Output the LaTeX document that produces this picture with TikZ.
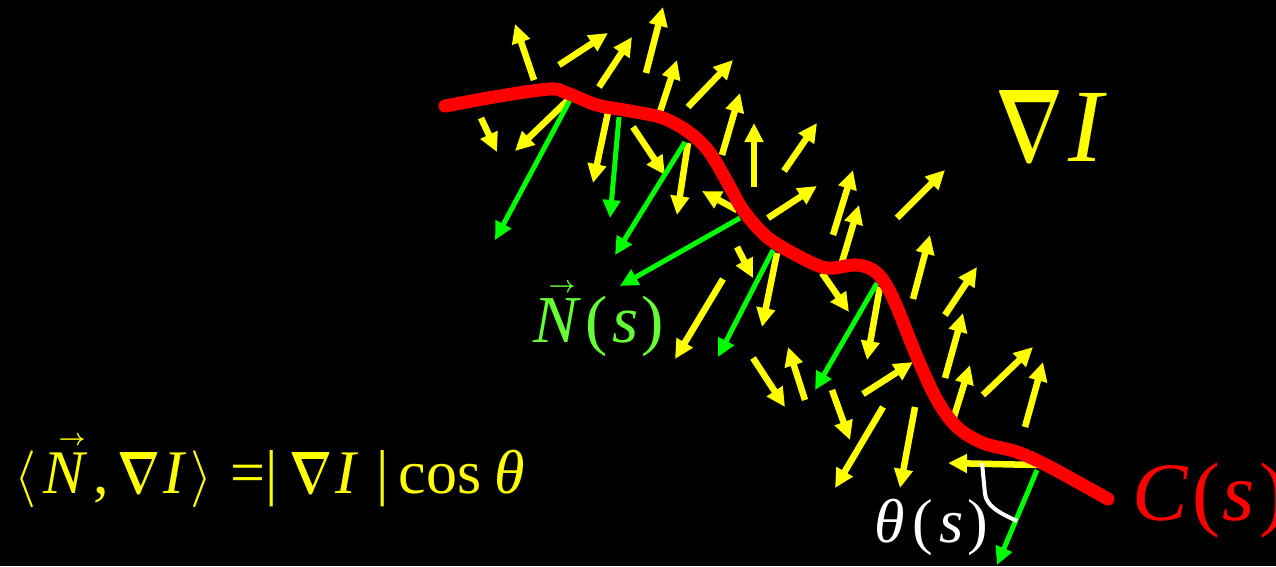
\documentclass[tikz,border=0pt]{standalone}
\usepackage{fontspec}
\setmainfont{Liberation Serif}
\usepackage{graphicx}
\usepackage{bm}
\usetikzlibrary{arrows.meta}
\definecolor{ylw}{RGB}{255,255,0}
\definecolor{grn}{RGB}{0,255,0}
\definecolor{ntxt}{RGB}{102,255,51}
\definecolor{crv}{RGB}{255,0,0}
\newcommand{\putat}[2]{\makebox[0pt][l]{\hspace{#1pt}#2}}
\newcommand{\vecarr}[1]{\resizebox{#1pt}{!}{$\bm\rightarrow$}}
\newcommand{\bignab}[2]{\resizebox{#1pt}{#2pt}{$\bm\nabla$}}
\newcommand{\angl}{\resizebox*{22pt}{57pt}{$\langle$}}
\newcommand{\angr}{\resizebox*{22pt}{57pt}{$\rangle$}}
\begin{document}
\begin{tikzpicture}[x=1pt,y=-1pt,
  yarr/.style={draw=ylw, line width=6.5pt, -{Triangle[length=19pt,width=18pt]}},
  garr/.style={draw=grn, line width=5pt, -{Triangle[length=18pt,width=17pt]}},
  curvestyle/.style={draw=crv, line width=13pt, line cap=round, line join=round},
  anglestyle/.style={draw=white, line width=4pt},
  lbl/.style={inner sep=0pt, anchor=base west}]
\fill[black] (0,0) rectangle (1276,566);
\useasboundingbox (0,0) rectangle (1276,566);
% yellow gradient arrows
\foreach \a/\b/\c/\d in {
534/80/515/24, 559/65/608/33, 599/87/632/37, 646/73/663/7,
659/115/677/60, 688/107/733/60, 481/118/497/152, 568/100/515/151,
610/103/593/183, 633/127/665/175, 688/143/677/215, 737/210/702/191,
722/155/740/93, 754/187/754/123, 784/171/817/123, 768/218/817/186,
833/235/853/170, 842/262/859/205, 897/218/945/170, 913/299/930/235,
945/315/977/267, 945/378/963/313, 737/247/753/278, 777/253/762/327,
822/273/849/312, 880/287/867/360, 723/279/675/359, 953/420/970/365,
983/395/1033/347, 1025/427/1043/362, 753/358/785/407, 805/400/788/347,
832/390/850/440, 863/394/913/362, 883/407/835/488, 915/407/900/488,
1037/465/948/463}
  \draw[yarr] (\a,\b) -- (\c,\d);
% green normals
\foreach \a/\b/\c/\d in {
570/100/495/240, 619/117/610/218, 685/142/615/255, 740/218/620/286,
773/250/718/357, 877/283/815/390, 1037/470/997/565}
  \draw[garr] (\a,\b) -- (\c,\d);
% curve C(s)
\draw[curvestyle] plot[smooth, tension=0.55] coordinates {
(445,106) (500,96) (550,89) (567,93) (597,105) (630,111) (663,118)
(690,133) (710,153) (730,187) (743,210) (767,237) (800,257) (827,268)
(857,265) (877,273) (893,298) (917,357) (937,400) (957,427) (983,443)
(1017,452) (1050,467) (1108,499)};
% angle mark
\draw[anglestyle] (982,463) -- (985,494) .. controls (987,505) and (995,511) .. (1017,521);
% labels
\node[lbl, text=ylw, font=\fontsize{104}{110}\selectfont] (gradI) at (0,161)
  {\putat{995}{\bignab{68}{71}}\putat{1068}{\textit{I}}};
\node[lbl, text=ntxt, font=\fontsize{67}{72}\selectfont] (Ns) at (0,342)
  {\putat{533}{\textit{N}}\putat{548}{\raisebox{50pt}{\vecarr{27}}}\putat{585}{(}\putat{612}{\textit{s}}\putat{641}{)}};
\node[lbl, text=crv, font=\fontsize{83}{88}\selectfont] (Cs) at (0,520)
  {\putat{1132}{\textit{C}}\putat{1192}{(}\putat{1222}{\textit{s}}\putat{1259}{)}};
\node[lbl, text=white, font=\fontsize{62}{68}\selectfont] (thetas) at (0,542)
  {\putat{874}{\textit{θ}}\putat{912}{(}\putat{939}{\textit{s}}\putat{967}{)}};
\node[lbl, text=ylw, font=\fontsize{62}{68}\selectfont] (eq) at (0,493)
  {\putat{14}{\angl}\putat{43}{\textit{N}}\putat{58}{\raisebox{48pt}{\vecarr{27}}}%
   \putat{93}{,}\putat{117}{\bignab{43}{41}}\putat{163}{\textit{I}}%
   \putat{190}{\angr}\putat{230}{=}\putat{265}{|}\putat{289}{\bignab{43}{41}}%
   \putat{335}{\textit{I}}\putat{376}{|}\putat{398}{cos}\putat{494}{\textit{θ}}};
\end{tikzpicture}
\end{document}
